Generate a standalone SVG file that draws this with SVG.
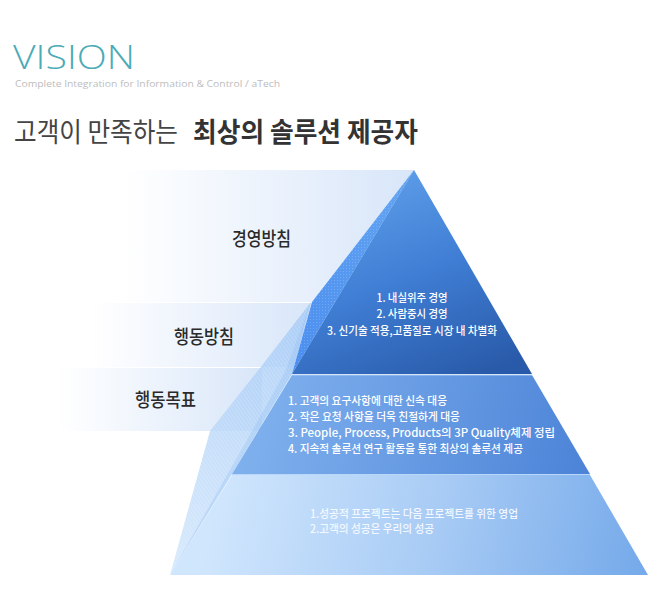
<svg xmlns="http://www.w3.org/2000/svg" width="651" height="612" viewBox="0 0 651 612">
<defs>
<style>
.kr{font-family:"Noto Sans CJK KR","Liberation Sans",sans-serif;}
.lbl{font-size:19px;fill:#2a2a2a;font-weight:500;}
.wt{font-size:11.5px;fill:#ffffff;font-weight:500;}
.wt2{font-size:11.5px;fill:#f4f8ff;font-weight:500;}
.sep{stroke:#ffffff;stroke-width:1;}
</style>
<linearGradient id="panelGrad" x1="0" y1="0" x2="1" y2="0">
<stop offset="0" stop-color="#ffffff"/>
<stop offset="0.12" stop-color="#ffffff"/>
<stop offset="0.45" stop-color="#f1f6fd"/>
<stop offset="1" stop-color="#d8e6f9"/>
</linearGradient>
<linearGradient id="darkGrad" gradientUnits="userSpaceOnUse" x1="390" y1="180" x2="470" y2="380">
<stop offset="0" stop-color="#5a9ae6"/>
<stop offset="0.45" stop-color="#3f7ed4"/>
<stop offset="1" stop-color="#295aa9"/>
</linearGradient>
<linearGradient id="stripGrad" gradientUnits="userSpaceOnUse" x1="400" y1="180" x2="300" y2="370">
<stop offset="0" stop-color="#62a4f2"/>
<stop offset="1" stop-color="#4b8eef"/>
</linearGradient>
<linearGradient id="midGrad" gradientUnits="userSpaceOnUse" x1="240" y1="380" x2="590" y2="474">
<stop offset="0" stop-color="#82b3ef"/>
<stop offset="1" stop-color="#4c83d7"/>
</linearGradient>
<linearGradient id="botGrad" gradientUnits="userSpaceOnUse" x1="220" y1="480" x2="640" y2="575">
<stop offset="0" stop-color="#d0e6fd"/>
<stop offset="0.5" stop-color="#a9ccf5"/>
<stop offset="1" stop-color="#76aaea"/>
</linearGradient>
<linearGradient id="faceGrad" gradientUnits="userSpaceOnUse" x1="300" y1="300" x2="180" y2="575">
<stop offset="0" stop-color="#a3c9f6" stop-opacity="0.85"/>
<stop offset="1" stop-color="#cae2fb" stop-opacity="0.75"/>
</linearGradient>
<pattern id="hatch" width="3" height="3" patternUnits="userSpaceOnUse" patternTransform="rotate(-35)">
<line x1="0" y1="0" x2="0" y2="3" stroke="#ffffff" stroke-opacity="0.35" stroke-width="1"/>
</pattern>
<pattern id="dots" width="3" height="3" patternUnits="userSpaceOnUse">
<rect x="1" y="1" width="1" height="1" fill="#ffffff" fill-opacity="0.18"/>
</pattern>
</defs>
<rect width="651" height="612" fill="#ffffff"/>

<g id="header">
<text x="13" y="68.5" font-family="'Open Sans','Liberation Sans',sans-serif" font-weight="300" font-size="33" fill="#4aaab6" textLength="122" lengthAdjust="spacingAndGlyphs">VISION</text>
<text x="15" y="87" font-family="'Open Sans','Liberation Sans',sans-serif" font-size="9.5" fill="#bdbdbd" textLength="265" lengthAdjust="spacingAndGlyphs">Complete Integration for Information &amp; Control / aTech</text>
<text class="kr" x="14" y="142" font-size="27" font-weight="400" fill="#444444" textLength="164" lengthAdjust="spacingAndGlyphs">고객이 만족하는</text>
<text class="kr" x="193" y="142" font-size="27" font-weight="700" fill="#333333" textLength="225" lengthAdjust="spacingAndGlyphs">최상의 솔루션 제공자</text>
</g>

<g id="panels">
<rect x="80" y="170" width="334" height="132" fill="url(#panelGrad)"/>
<rect x="60" y="303" width="252" height="64" fill="url(#panelGrad)"/>
<rect x="30" y="368" width="232" height="63" fill="url(#panelGrad)"/>
<line class="sep" x1="90" y1="302.5" x2="312" y2="302.5"/>
<line class="sep" x1="70" y1="367.5" x2="262" y2="367.5"/>
</g>

<g id="node-policy-label">
<text class="kr lbl" x="232" y="246" textLength="59" lengthAdjust="spacingAndGlyphs">경영방침</text>
</g>
<g id="node-action-policy-label">
<text class="kr lbl" x="174" y="344" textLength="60" lengthAdjust="spacingAndGlyphs">행동방침</text>
</g>
<g id="node-action-goal-label">
<text class="kr lbl" x="135" y="407" textLength="61" lengthAdjust="spacingAndGlyphs">행동목표</text>
</g>

<g id="pyramid-face">
<polygon points="311,302 260,368 210,431 170,575 232,474 292,374" fill="url(#faceGrad)"/>
<polygon points="311,302 260,368 210,431 170,575 232,474 292,374" fill="url(#hatch)"/>
<polygon points="311,302 285,372 247,440 170,575 232,474 292,374" fill="#8fbdf3" fill-opacity="0.3"/>
</g>

<g id="node-level1">
<polygon points="414,170 312,302 292,374" fill="url(#stripGrad)"/>
<polygon points="414,170 312,302 292,374" fill="url(#dots)"/>
<polygon points="414,170 292,374 532,374" fill="url(#darkGrad)"/>
<text class="kr wt" x="412" y="302" text-anchor="middle" textLength="71" lengthAdjust="spacingAndGlyphs">1. 내실위주 경영</text>
<text class="kr wt" x="412" y="318" text-anchor="middle" textLength="71" lengthAdjust="spacingAndGlyphs">2. 사람중시 경영</text>
<text class="kr wt" x="412" y="335" text-anchor="middle" textLength="170" lengthAdjust="spacingAndGlyphs">3. 신기술 적용,고품질로 시장 내 차별화</text>
</g>

<g id="node-level2">
<polygon points="292,375 532,375 590,474 232,474" fill="url(#midGrad)"/>
<line x1="292" y1="375" x2="532" y2="375" stroke="#a9cbf5" stroke-width="1"/>
<text class="kr wt" x="288" y="405" textLength="159" lengthAdjust="spacingAndGlyphs">1. 고객의 요구사항에 대한 신속 대응</text>
<text class="kr wt" x="288" y="421" textLength="172" lengthAdjust="spacingAndGlyphs">2. 작은 요청 사항을 더욱 친절하게 대응</text>
<text class="kr wt" x="288" y="437" textLength="267" lengthAdjust="spacingAndGlyphs">3. People, Process, Products의 3P Quality체제 정립</text>
<text class="kr wt" x="288" y="453" textLength="235" lengthAdjust="spacingAndGlyphs">4. 지속적 솔루션 연구 활동을 통한 최상의 솔루션 제공</text>
</g>

<g id="node-level3">
<polygon points="232,475 590,475 648,575 170,575" fill="url(#botGrad)"/>
<line x1="232" y1="474.5" x2="590" y2="474.5" stroke="#b9d7f8" stroke-width="1"/>
<text class="kr wt2" x="310" y="518" textLength="208" lengthAdjust="spacingAndGlyphs">1.성공적 프로젝트는 다음 프로젝트를 위한 영업</text>
<text class="kr wt2" x="310" y="533" textLength="124" lengthAdjust="spacingAndGlyphs">2.고객의 성공은 우리의 성공</text>
</g>

<g id="connectors"/>
</svg>
